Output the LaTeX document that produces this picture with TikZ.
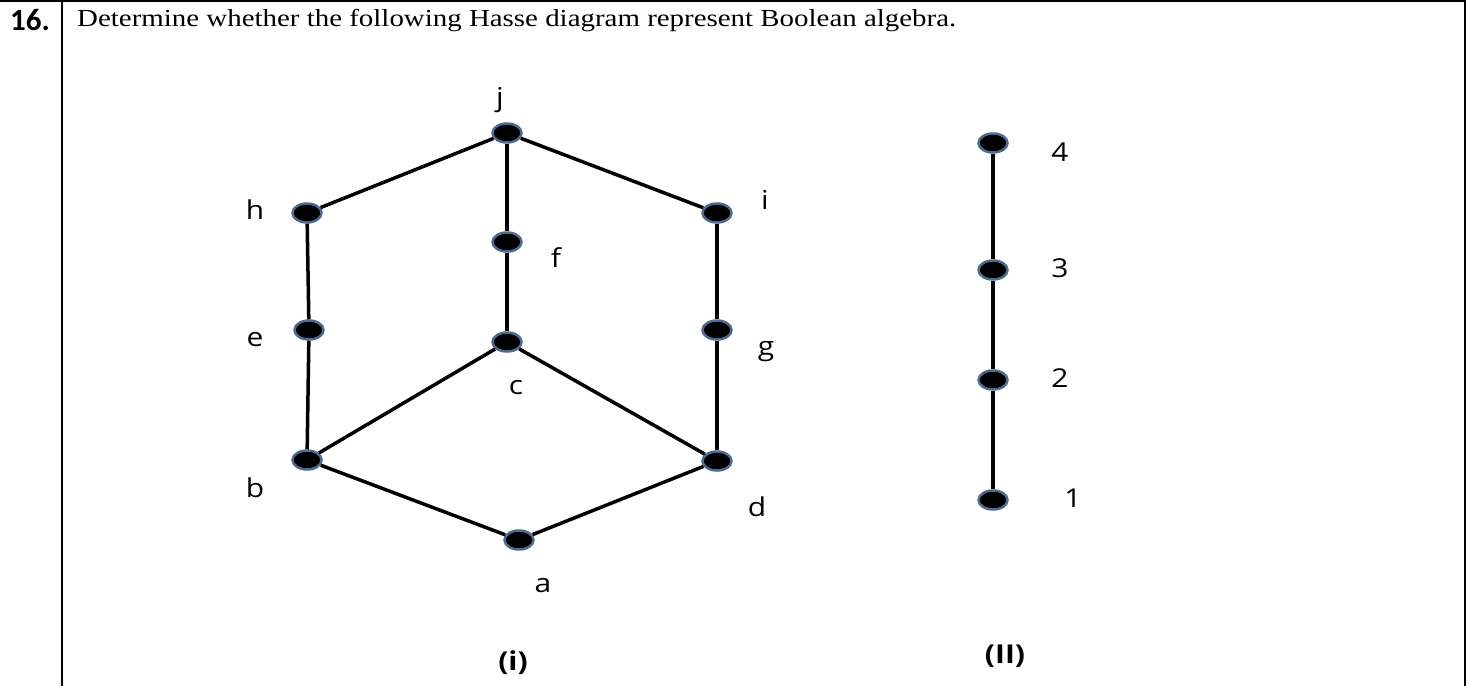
\documentclass[tikz,border=0pt]{standalone}
\usepackage{fontspec}
\setmainfont{Liberation Serif}
\newfontfamily\lblfont{Open Sans}
\newfontfamily\numfont{Carlito}
\usepackage{tikz}
\usetikzlibrary{positioning,shapes.geometric}
\definecolor{rim}{RGB}{79,106,143}
\newcommand{\wide}[1]{\scalebox{1.15}[1]{#1}}

\begin{document}
\begin{tikzpicture}[x=1pt,y=-1pt,
		vtx/.style={ellipse, fill=black, draw=rim, line width=2.5pt, minimum width=29pt, minimum height=19pt, inner sep=0pt},
		lbl/.style={font=\lblfont\fontsize{26}{26}\selectfont, inner sep=0pt},
		subcap/.style={font=\lblfont\bfseries\fontsize{26}{26}\selectfont, inner sep=0pt},
		edge/.style={line width=3.5pt}]
			\useasboundingbox (0,0) rectangle (1466,686);
			% table frame
			\draw [line width=2pt] (0,1) -- (1465,1) -- (1465,686);
			\draw [line width=1.5pt] (62,1) -- (62,686);
			\node (num) at (30,20) {\numfont\bfseries\fontsize{31}{31}\selectfont 16.};
			\node (qtext) [anchor=west, inner sep=0pt] at (77,21) {\scalebox{1.18}[1]{\fontsize{24.5}{24.5}\selectfont Determine whether the following Hasse diagram represent Boolean algebra.}};
			
			% lattice (i)
			\node (j) [vtx] at (507,133) {};
			\node (h) [vtx] at (307,213) {};
			\node (i) [vtx] at (717,213) {};
			\node (f) [vtx] at (507,242) {};
			\node (e) [vtx] at (309,330) {};
			\node (c) [vtx] at (507,342) {};
			\node (g) [vtx] at (717,330) {};
			\node (b) [vtx] at (307,460) {};
			\node (d) [vtx] at (717,461) {};
			\node (a) [vtx] at (519,540) {};
			
			\node (lj) [lbl] at (500,100) {\wide{j}};
			\node (lh) [lbl] at (255,210) {\wide{h}};
			\node (li) [lbl] at (765,200) {\wide{i}};
			\node (lf) [lbl] at (556,258) {\wide{f}};
			\node (le) [lbl] at (255,340) {\wide{e}};
			\node (lc) [lbl] at (516,388) {\wide{c}};
			\node (lg) [lbl] at (766,352) {\wide{g}};
			\node (lb) [lbl] at (255,488) {\wide{b}};
			\node (ld) [lbl] at (757,507) {\wide{d}};
			\node (la) [lbl] at (543,586) {\wide{a}};
			
			\draw [edge] (h) -- (j);
			\draw [edge] (j) -- (i);
			\draw [edge] (j) -- (f);
			\draw [edge] (f) -- (c);
			\draw [edge] (h) -- (e);
			\draw [edge] (e) -- (b);
			\draw [edge] (i) -- (g);
			\draw [edge] (g) -- (d);
			\draw [edge] (b) -- (c);
			\draw [edge] (c) -- (d);
			\draw [edge] (b) -- (a);
			\draw [edge] (a) -- (d);
			
			% chain (ii)
			\node (n4) [vtx] at (993,143) {};
			\node (n3) [vtx] at (993,270) {};
			\node (n2) [vtx] at (993,380) {};
			\node (n1) [vtx] at (993,500) {};
			\node (l4) [lbl] at (1060,152) {\wide{4}};
			\node (l3) [lbl] at (1060,268) {\wide{3}};
			\node (l2) [lbl] at (1060,378) {\wide{2}};
			\node (l1) [lbl] at (1073,498) {\wide{1}};
			\draw [edge] (n4) -- (n3);
			\draw [edge] (n3) -- (n2);
			\draw [edge] (n2) -- (n1);
			
			\node (capi) [subcap] at (513,663) {\wide{(i)}};
			\node (capii) [subcap] at (1005,656) {\wide{(II)}};
		\end{tikzpicture}
\end{document}
